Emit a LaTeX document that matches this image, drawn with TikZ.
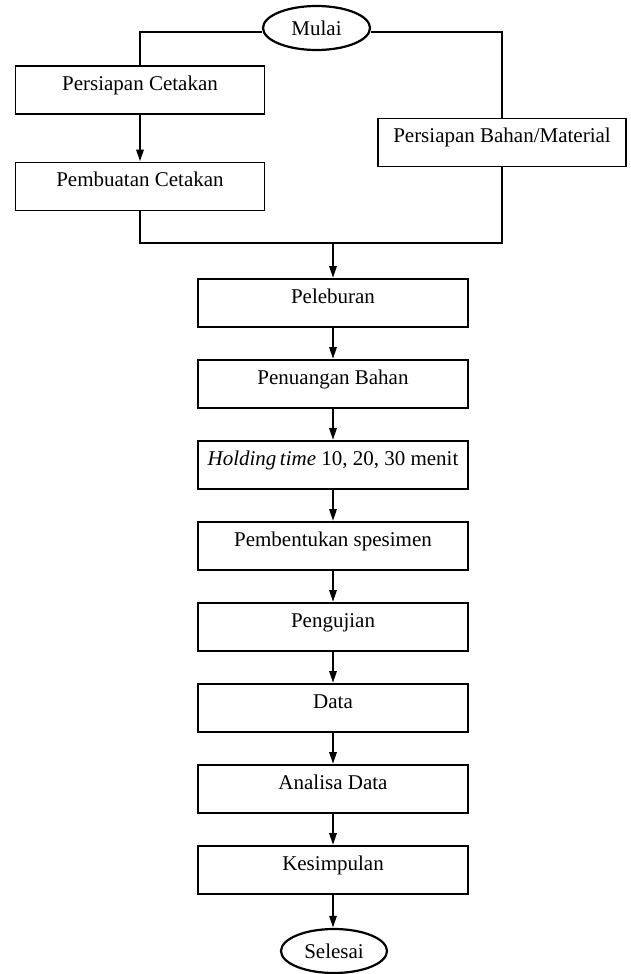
\documentclass[tikz,border=0pt]{standalone}
\usepackage{fontspec}
\setmainfont{Liberation Serif}
\usetikzlibrary{arrows.meta,shapes.geometric}
\begin{document}
\begin{tikzpicture}[x=1pt,y=-1pt,
  every node/.style={font=\fontsize{21}{25}\selectfont},
  stepbox/.style={draw, line width=1.6pt, rectangle, inner xsep=2pt, inner ysep=0pt,
    text height=24pt, text depth=24pt},
  midbox/.style={stepbox, minimum width=270pt},
  termnode/.style={draw, line width=2.2pt, ellipse, inner sep=0pt, minimum width=107pt, minimum height=44pt},
  conn/.style={line width=2.6pt},
  arr/.style={conn, -{Triangle[length=12pt,width=7pt]}}]
\useasboundingbox (0,0) rectangle (631,974);
\fill[white] (0,0) rectangle (631,974);

\node[termnode] (mulai) at (316.5,28) {Mulai};
\node[stepbox, minimum width=249pt] (pc) at (140,90) {Persiapan Cetakan};
\node[stepbox, minimum width=249pt] (pbc) at (140,186.5) {Pembuatan Cetakan};
\node[stepbox, minimum width=248pt] (pb) at (502,142.5) {Persiapan Bahan/Material};

\node[midbox] (m1) at (333,303) {Peleburan};
\node[midbox] (m2) at (333,384) {Penuangan Bahan};
\node[midbox] (m3) at (333,465) {\textit{Holding\,time} 10, 20, 30 menit};
\node[midbox] (m4) at (333,546) {Pembentukan spesimen};
\node[midbox] (m5) at (333,627) {Pengujian};
\node[midbox] (m6) at (333,708) {Data};
\node[midbox] (m7) at (333,789) {Analisa Data};
\node[midbox] (m8) at (333,870) {Kesimpulan};
\node[termnode, minimum width=106pt] (selesai) at (334,951) {Selesai};

\coordinate (tl) at (140,32);
\coordinate (tr) at (502,32);
\coordinate (bl) at (140,243);
\coordinate (br) at (502,243);
\coordinate (jm) at (333,243);

\draw[conn] (mulai.west |- tl) -- (tl) -- (pc.north);
\draw[conn] (mulai.east |- tr) -- (tr) -- (pb.north);
\draw[arr] (pc.south) -- (pbc.north);
\draw[conn, line join=miter] (pbc.south) -- (bl) -- (br) -- (pb.south);
\draw[arr] (jm) -- (m1.north);
\draw[arr] (m1.south) -- (m2.north);
\draw[arr] (m2.south) -- (m3.north);
\draw[arr] (m3.south) -- (m4.north);
\draw[arr] (m4.south) -- (m5.north);
\draw[arr] (m5.south) -- (m6.north);
\draw[arr] (m6.south) -- (m7.north);
\draw[arr] (m7.south) -- (m8.north);
\draw[arr] (m8.south) -- (selesai.north -| m8.south);
\end{tikzpicture}
\end{document}
